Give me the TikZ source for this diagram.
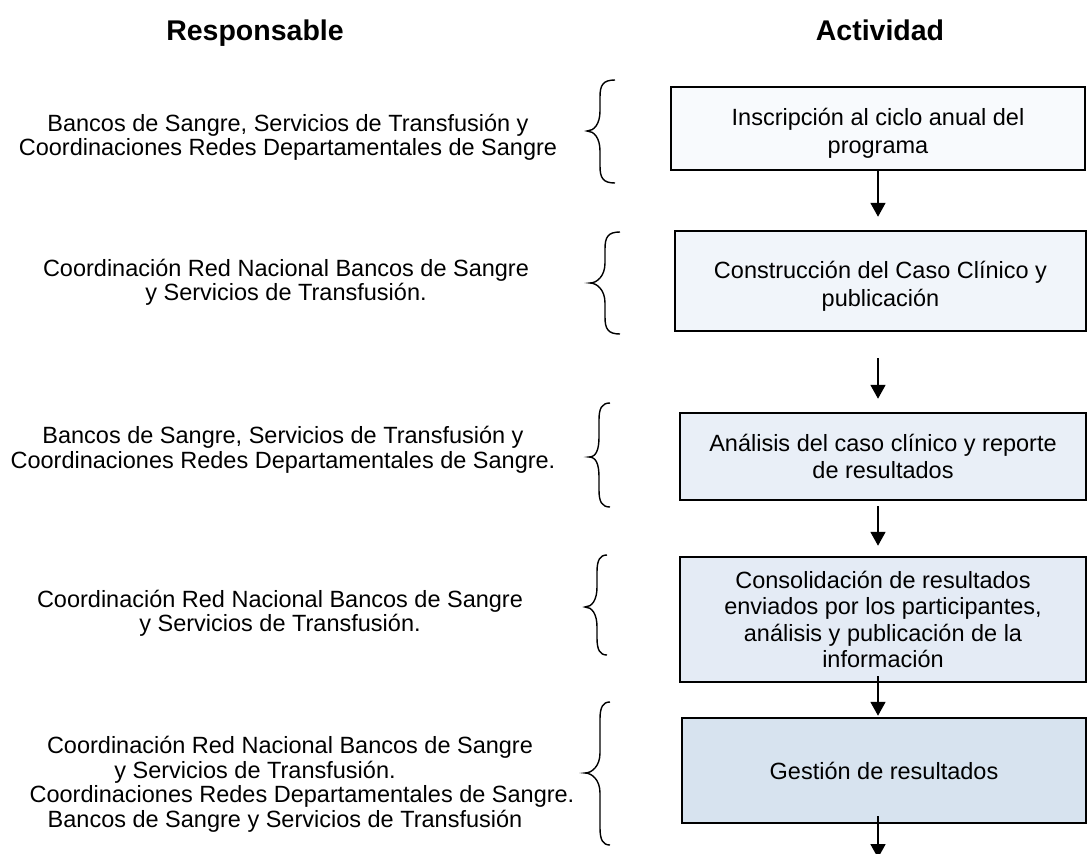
\documentclass[tikz,border=0pt]{standalone}
\usepackage{fontspec}
\setmainfont{Liberation Sans}
\usetikzlibrary{arrows.meta}
\definecolor{fA}{HTML}{F8FAFD}
\definecolor{fB}{HTML}{F1F5FA}
\definecolor{fC}{HTML}{E9EFF7}
\definecolor{fD}{HTML}{E4EBF5}
\definecolor{fE}{HTML}{D7E3EF}
\newcommand{\lbrc}[6]{%
  \draw[brc] (#1,#4) .. controls (#2+3,#4) and (#2,#4+5) .. (#2,#4+17) -- (#2,#5-20)
    .. controls (#2,#5-7) and (#3+7,#5) .. (#3,#5) .. controls (#3+7,#5) and (#2,#5+7) .. (#2,#5+20)
    -- (#2,#6-17) .. controls (#2,#6-5) and (#2+3,#6) .. (#1,#6);}
\begin{document}
\begin{tikzpicture}[x=1pt,y=-1pt,
  actbox/.style={draw=black, line width=2.5pt, align=center, inner sep=0pt,
    font=\fontsize{23.5}{26.5}\selectfont},
  resp/.style={align=center, inner sep=0pt, font=\fontsize{23.5}{24.5}\selectfont},
  head/.style={font=\fontsize{28.5}{32}\selectfont\bfseries, inner sep=0pt, anchor=base},
  arr/.style={line width=1.8pt, -{Triangle[width=15pt,length=14pt]}},
  brc/.style={line width=1.4pt}]
\useasboundingbox (0,0) rectangle (1088,854);
\fill[white] (0,0) rectangle (1088,854);

\node[head] (hR) at (255,40) {Responsable};
\node[head] (hA) at (880,40) {Actividad};

\node[actbox, fill=fA, minimum width=414pt, minimum height=83pt] (b1) at (878,128.5)
  {\rule{0pt}{27pt}Inscripción al ciclo anual del\\[2pt]programa};
\node[actbox, fill=fB, minimum width=411pt, minimum height=100pt] (b2) at (880.5,281)
  {\rule{0pt}{28pt}Construcción del Caso Clínico y\\[1pt]publicación};
\node[actbox, fill=fC, minimum width=406pt, minimum height=87pt] (b3) at (883,456.5)
  {Análisis del caso clínico y reporte\\de resultados};
\node[actbox, fill=fD, minimum width=406pt, minimum height=125pt] (b4) at (883,619.5)
  {Consolidación de resultados\\enviados por los participantes,\\análisis y publicación de la\\información};
\node[actbox, fill=fE, minimum width=404pt, minimum height=105pt] (b5) at (884,770.5)
  {Gestión de resultados};

\node[resp] (r1) at (288,137.5)
  {Bancos de Sangre, Servicios de Transfusión y\\Coordinaciones Redes Departamentales de Sangre};
\node[resp] (r2) at (286,282.5)
  {Coordinación Red Nacional Bancos de Sangre\\y Servicios de Transfusión.};
\node[resp] (r3) at (283,450)
  {Bancos de Sangre, Servicios de Transfusión y\\Coordinaciones Redes Departamentales de Sangre.};
\node[resp] (r4) at (280,613.5)
  {Coordinación Red Nacional Bancos de Sangre\\y Servicios de Transfusión.};
\node[resp] (r5) at (290,784.5)
  {Coordinación Red Nacional Bancos de Sangre\\y Servicios de Transfusión.\kern70pt\\\kern24pt Coordinaciones Redes Departamentales de Sangre.\\Bancos de Sangre y Servicios de Transfusión\kern10pt};

\lbrc{615}{600}{587}{80}{131}{183}
\lbrc{620}{605}{590}{232}{283}{334}
\lbrc{610}{599}{589}{403}{457}{507}
\lbrc{607}{597}{585}{555}{607}{655}
\lbrc{610}{600}{585}{702}{773}{845}

\coordinate (ax) at (878,0);
\coordinate (endp) at (878,858);
\draw[arr, shorten >=13pt] (b1.south -| ax) -- (b2.north -| ax);
\draw[arr, shorten <=26pt, shorten >=13pt] (b2.south -| ax) -- (b3.north -| ax);
\draw[arr, shorten <=5pt, shorten >=10pt] (b3.south -| ax) -- (b4.north -| ax);
\draw[arr, shorten <=-7pt, shorten >=1pt] (b4.south -| ax) -- (b5.north -| ax);
\draw[arr, shorten <=-8pt] (b5.south -| ax) -- (endp);
\end{tikzpicture}
\end{document}
